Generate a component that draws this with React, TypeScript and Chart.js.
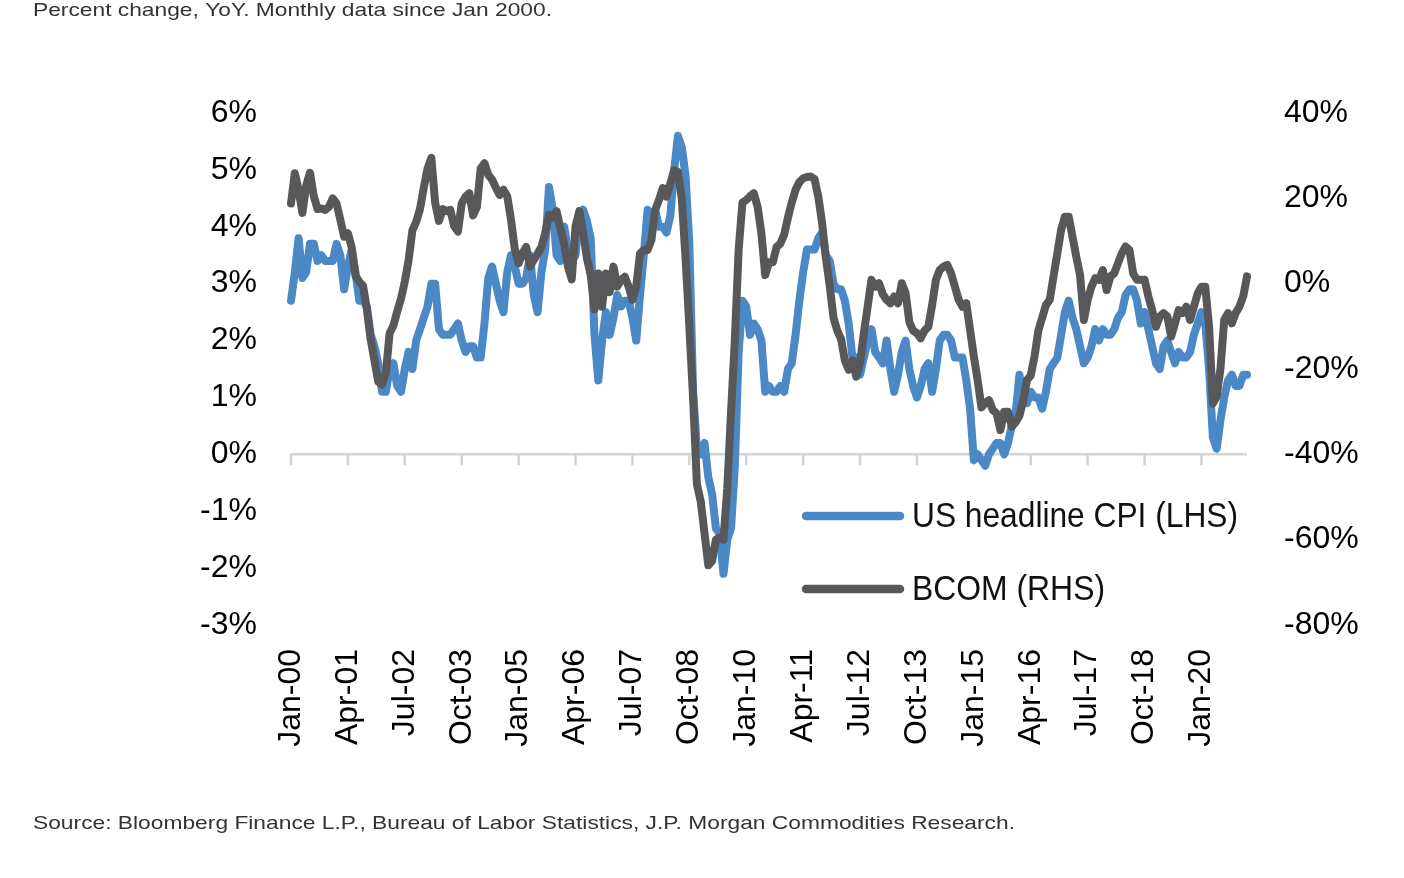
import React, { useEffect, useRef } from "react";
import { Chart, registerables } from "chart.js";

Chart.register(...registerables);

const START_YEAR = 2000;
const MONTH_NAMES = ["Jan", "Feb", "Mar", "Apr", "May", "Jun", "Jul", "Aug", "Sep", "Oct", "Nov", "Dec"];

// US headline CPI, % YoY (LHS), Jan 2000 - Jan 2021
const CPI = [
  2.7, 3.2, 3.8, 3.1, 3.2, 3.7, 3.7, 3.4, 3.5, 3.4, 3.4, 3.4,
  3.7, 3.5, 2.9, 3.3, 3.6, 3.2, 2.7, 2.7, 2.6, 2.1, 1.9, 1.6,
  1.1, 1.1, 1.5, 1.6, 1.2, 1.1, 1.5, 1.8, 1.5, 2.0, 2.2, 2.4,
  2.6, 3.0, 3.0, 2.2, 2.1, 2.1, 2.1, 2.2, 2.3, 2.0, 1.8, 1.9,
  1.9, 1.7, 1.7, 2.3, 3.1, 3.3, 3.0, 2.7, 2.5, 3.2, 3.5, 3.3,
  3.0, 3.0, 3.1, 3.5, 2.8, 2.5, 3.2, 3.6, 4.7, 4.3, 3.5, 3.4,
  4.0, 3.6, 3.4, 3.5, 4.2, 4.3, 4.1, 3.8, 2.1, 1.3, 2.0, 2.5,
  2.1, 2.4, 2.8, 2.6, 2.7, 2.7, 2.4, 2.0, 2.8, 3.5, 4.3, 4.1,
  4.3, 4.0, 4.0, 3.9, 4.2, 5.0, 5.6, 5.4, 4.9, 3.7, 1.1, 0.1,
  0.0, 0.2, -0.4, -0.7, -1.3, -1.4, -2.1, -1.5, -1.3, -0.2, 1.8, 2.7,
  2.6, 2.1, 2.3, 2.2, 2.0, 1.1, 1.2, 1.1, 1.1, 1.2, 1.1, 1.5,
  1.6, 2.1, 2.7, 3.2, 3.6, 3.6, 3.6, 3.8, 3.9, 3.5, 3.4, 3.0,
  2.9, 2.9, 2.7, 2.3, 1.7, 1.7, 1.4, 1.7, 2.0, 2.2, 1.8, 1.7,
  1.6, 2.0, 1.5, 1.1, 1.4, 1.8, 2.0, 1.5, 1.2, 1.0, 1.2, 1.5,
  1.6, 1.1, 1.5, 2.0, 2.1, 2.1, 2.0, 1.7, 1.7, 1.7, 1.3, 0.8,
  -0.1, 0.0, -0.1, -0.2, 0.0, 0.1, 0.2, 0.2, 0.0, 0.2, 0.5, 0.7,
  1.4, 1.0, 0.9, 1.1, 1.0, 1.0, 0.8, 1.1, 1.5, 1.6, 1.7, 2.1,
  2.5, 2.7, 2.4, 2.2, 1.9, 1.6, 1.7, 1.9, 2.2, 2.0, 2.2, 2.1,
  2.1, 2.2, 2.4, 2.5, 2.8, 2.9, 2.9, 2.7, 2.3, 2.5, 2.2, 1.9,
  1.6, 1.5, 1.9, 2.0, 1.8, 1.6, 1.8, 1.7, 1.7, 1.8, 2.1, 2.3,
  2.5, 2.3, 1.5, 0.3, 0.1, 0.6, 1.0, 1.3, 1.4, 1.2, 1.2, 1.4,
  1.4,
];

// BCOM, % YoY (RHS), Jan 2000 - Jan 2021
const BCOM = [
  18.8, 25.9, 22, 16.6, 23, 26, 20.5, 17.5, 17.6, 17.3, 18, 20,
  18.8, 15, 11, 11.8, 8.5, 1.8, 0.5, -0.5, -6, -13, -18, -23,
  -23.6, -21, -11.6, -9.8, -6.5, -3.5, 0.5, 5.5, 12.5, 14.5, 17.5, 22.5,
  27, 29.5, 19, 14.7, 17.5, 17, 17.3, 13.5, 12.2, 18.8, 20.4, 21.2,
  16, 18, 27, 28.2, 25.5, 24.4, 22.5, 20.8, 22, 20.5, 15, 8,
  4.8, 7.1, 8.6, 4, 5.6, 7, 8.6, 11.8, 16.2, 15.5, 17, 13,
  9.4, 4, 1, 13.4, 17, 12, 6, 2, -6, 2.4, -5.4, 2.4,
  -2, 4, -0.7, 0.9, 1.6, -0.7, -3.8, -0.7, 7.1, 7.9, 7.9, 10.2,
  17.3, 19.6, 22.4, 20.4, 23.5, 26.6, 26.2, 20, 6, -10, -27, -47,
  -51, -58.5, -66, -65, -60, -59.5, -60, -48, -30, -13, 8, 19,
  19.6, 20.5, 21.2, 18, 11.8, 2, 5, 5, 8.6, 9.4, 11.5, 15.5,
  19, 22, 23.8, 24.7, 25, 25.1, 24.5, 20.4, 14.2, 6, -0.5, -8,
  -11, -13, -18, -20.2, -18, -21.8, -18.6, -11.6, -5.4, 0.9, -0.7, 0.1,
  -2.5, -3.8, -4.6, -3, -4.6, 0.1, -2.2, -9, -11, -11.6, -12.8, -11,
  -10.1, -5, 0.9, 3.2, 4, 4.4, 2.4, -0.7, -3.8, -5.4, -4.6, -10.8,
  -17.1, -22.6, -29, -28, -27.3, -29.6, -30.4, -34.3, -30, -30, -33.5, -32.5,
  -31, -27.5, -22.6, -21.5, -17, -11, -8, -5, -3.8, 1.7, 7.1, 12.6,
  15.7, 15.7, 11, 6.3, 2, -8.5, -3.8, -0.7, 1.3, 0.9, 3.2, -1.5,
  1.7, 2.4, 4.8, 7.1, 8.7, 7.9, 2.4, 0.9, 0.9, 0.9, -3, -6.2,
  -10.1, -7.7, -6.9, -7.7, -12.4, -9.3, -6.2, -6.9, -5.4, -8.5, -5.4, -2.3,
  -0.7, -0.7, -10, -28.1, -26.5, -20, -8.5, -6.9, -9.3, -6.9, -5.4, -3,
  1.7,
];

const TICK_LABELS = [
  "Jan-00", "Apr-01", "Jul-02", "Oct-03", "Jan-05", "Apr-06", "Jul-07", "Oct-08", "Jan-10",
  "Apr-11", "Jul-12", "Oct-13", "Jan-15", "Apr-16", "Jul-17", "Oct-18", "Jan-20",
];

const SERIES_NAMES = ["US headline CPI (LHS)", "BCOM (RHS)"];
const TITLE = "Percent change, YoY. Monthly data since Jan 2000.";
const SOURCE = "Source: Bloomberg Finance L.P., Bureau of Labor Statistics, J.P. Morgan Commodities Research.";

const MONTHS: string[] = CPI.map((_, i) => {
  const y = START_YEAR + Math.floor(i / 12);
  return MONTH_NAMES[i % 12] + "-" + String(y % 100).padStart(2, "0");
});

const BLUE = "#4a88c6";
const GREY = "#58585b";
const FONT = "'Liberation Sans', Arial, sans-serif";

function fitText(ctx: CanvasRenderingContext2D, text: string, x: number, y: number, size: number, width: number, color: string) {
  ctx.save();
  ctx.font = `${size}px ${FONT}`;
  ctx.fillStyle = color;
  ctx.textAlign = "left";
  ctx.textBaseline = "middle";
  const w = ctx.measureText(text).width;
  ctx.translate(x, y);
  ctx.scale(width / w, 1);
  ctx.fillText(text, 0, 0);
  ctx.restore();
}

const zeroAxisPlugin = {
  id: "zeroAxis",
  beforeDatasetsDraw(chart: any) {
    const { ctx, chartArea, scales } = chart;
    const y0 = scales.y.getPixelForValue(0);
    ctx.save();
    ctx.strokeStyle = "#d3d3d3";
    ctx.lineWidth = 2.5;
    ctx.beginPath();
    ctx.moveTo(chartArea.left, y0);
    ctx.lineTo(chartArea.right, y0);
    TICK_LABELS.forEach((lab) => {
      const idx = MONTHS.indexOf(lab);
      const x = scales.x.getPixelForValue(idx);
      ctx.moveTo(x, y0);
      ctx.lineTo(x, y0 + 11);
    });
    ctx.stroke();
    ctx.restore();
  },
};

const textPlugin = {
  id: "texts",
  afterDraw(chart: any) {
    const { ctx } = chart;
    fitText(ctx, TITLE, 33, 11, 19, 519, "#333333");
    fitText(ctx, SOURCE, 33, 824, 19, 982, "#333333");
    const items = [
      { y: 516, color: chart.data.datasets[1].borderColor, label: chart.data.datasets[1].label, w: 326 },
      { y: 589, color: chart.data.datasets[0].borderColor, label: chart.data.datasets[0].label, w: 193 },
    ];
    items.forEach((it) => {
      ctx.save();
      ctx.strokeStyle = it.color;
      ctx.lineWidth = 8.5;
      ctx.lineCap = "round";
      ctx.beginPath();
      ctx.moveTo(806, it.y);
      ctx.lineTo(900, it.y);
      ctx.stroke();
      ctx.restore();
      fitText(ctx, it.label, 912, it.y + 1, 35, it.w, "#111111");
    });
  },
};

export default function App() {
  const ref = useRef<HTMLCanvasElement | null>(null);

  useEffect(() => {
    document.body.style.overflow = "hidden";
    const canvas = ref.current;
    if (!canvas) return;
    const chart = new Chart(canvas, {
      type: "line",
      data: {
        labels: MONTHS,
        datasets: [
          {
            label: SERIES_NAMES[1],
            data: BCOM,
            yAxisID: "y1",
            borderColor: GREY,
            borderWidth: 8,
            pointRadius: 0,
            tension: 0,
            borderJoinStyle: "round",
            borderCapStyle: "round",
            fill: false,
          },
          {
            label: SERIES_NAMES[0],
            data: CPI,
            yAxisID: "y",
            borderColor: BLUE,
            borderWidth: 8,
            pointRadius: 0,
            tension: 0,
            borderJoinStyle: "round",
            borderCapStyle: "round",
            fill: false,
          },
        ],
      },
      options: {
        animation: false,
        responsive: true,
        maintainAspectRatio: false,
        layout: { padding: { top: 113, left: 0, right: 0, bottom: 0 } },
        plugins: {
          legend: { display: false },
          tooltip: { enabled: false },
          title: { display: false },
        },
        scales: {
          x: {
            type: "category",
            offset: false,
            grid: { display: false },
            border: { display: false },
            ticks: {
              autoSkip: false,
              maxRotation: 90,
              minRotation: 90,
              padding: 16,
              color: "#000",
              font: { family: FONT, size: 32 },
              callback: (_v: any, idx: number) => (TICK_LABELS.includes(MONTHS[idx]) ? MONTHS[idx] : null),
            },
            afterFit: (s: any) => {
              s.height = 253;
            },
          },
          y: {
            position: "left",
            min: -3,
            max: 6,
            grid: { display: false },
            border: { display: false },
            ticks: {
              stepSize: 1,
              padding: 26,
              color: "#000",
              font: { family: FONT, size: 32 },
              callback: (v: any) => `${v}%`,
            },
            afterFit: (s: any) => {
              s.width = 291;
            },
          },
          y1: {
            position: "right",
            min: -80,
            max: 40,
            grid: { display: false },
            border: { display: false },
            ticks: {
              stepSize: 20,
              padding: 29,
              color: "#000",
              font: { family: FONT, size: 32 },
              callback: (v: any) => `${v}%`,
            },
            afterFit: (s: any) => {
              s.width = 157;
            },
          },
        },
      },
      plugins: [zeroAxisPlugin, textPlugin],
    });
    return () => chart.destroy();
  }, []);

  return (
    <div style={{ position: "absolute", left: 0, top: 0, width: 1404, height: 878, background: "#fff" }}>
      <canvas ref={ref} />
    </div>
  );
}
